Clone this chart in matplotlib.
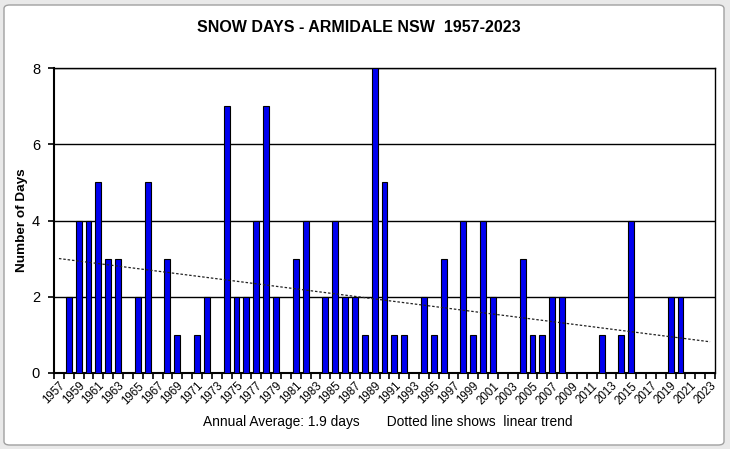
import numpy as np
import matplotlib
matplotlib.use("Agg")
import matplotlib.pyplot as plt
from matplotlib.patches import FancyBboxPatch

plt.rcParams['font.family'] = ['Liberation Sans', 'DejaVu Sans']

years = list(range(1957, 2024))
snow_days = [0, 2, 4, 4, 5, 3, 3, 0, 2, 5,
             0, 3, 1, 0, 1, 2, 0, 7, 2, 2,
             4, 7, 2, 0, 3, 4, 0, 2, 4, 2,
             2, 1, 8, 5, 1, 1, 0, 2, 1, 3,
             0, 4, 1, 4, 2, 0, 0, 3, 1, 1,
             2, 2, 0, 0, 0, 1, 0, 1, 4, 0,
             0, 0, 2, 2, 0, 0, 0]
title = "SNOW DAYS - ARMIDALE NSW  1957-2023"
ylabel = "Number of Days"
footnote = "Annual Average: 1.9 days       Dotted line shows  linear trend"

W, H = 730, 449
fig = plt.figure(figsize=(W / 100, H / 100), dpi=100)
fig.patch.set_facecolor('#e9e9e9')

frame = FancyBboxPatch((4 / W, 4 / H), (724 - 4) / W, (444 - 4) / H,
                       boxstyle="round,pad=0,rounding_size=0.008",
                       transform=fig.transFigure, facecolor='white',
                       edgecolor='#a0a0a0', linewidth=1.0, zorder=-10)
fig.patches.append(frame)

ax = fig.add_axes([54 / W, 1 - 373 / H, (715 - 54) / W, (373 - 68) / H])
ax.set_zorder(1)
ax.set_facecolor('white')
x = np.arange(len(years))
ax.bar(x, snow_days, width=0.6, color='#0000f0', edgecolor='black',
       linewidth=0.8, zorder=3)

coef = np.polyfit(x, snow_days, 1)
ax.plot(x, np.polyval(coef, x), color='#222222', linestyle=(0, (2, 1.5)),
        linewidth=0.9, zorder=4)

ax.set_xlim(-0.5, len(years) - 0.5)
ax.set_ylim(0, 8)
ax.set_yticks([0, 2, 4, 6, 8])
ax.set_yticklabels(['0', '2', '4', '6', '8'], fontsize=10.5)
ax.yaxis.grid(True, color='black', linewidth=1.0, zorder=1)
ax.set_axisbelow(True)

ax.set_xticks(x[::2])
ax.set_xticklabels([str(y) for y in years[::2]], rotation=45, ha='right',
                   va='top', rotation_mode='anchor', fontsize=8.3)
ax.set_xticks(np.arange(-0.5, len(years), 1), minor=True)
ax.tick_params(axis='x', which='major', length=0, pad=5)
ax.tick_params(axis='x', which='minor', length=4, width=1.2, direction='out')
ax.tick_params(axis='y', length=4, width=1.2, direction='out', pad=6)

for s in ax.spines.values():
    s.set_linewidth(1.0)
    s.set_color('black')
ax.spines['bottom'].set_linewidth(1.5)
ax.spines['left'].set_linewidth(1.5)

ax.set_ylabel(ylabel, fontsize=9.7, fontweight='bold')
ax.yaxis.set_label_coords(-(54 - 28) / (715 - 54), 0.5)
fig.text(359 / W, 1 - 27 / H, title, ha='center', va='center',
         fontsize=11.5, fontweight='bold')
fig.text(388 / W, 1 - 422 / H, footnote, ha='center', va='center', fontsize=9.9)

fig.savefig('out.png', dpi=100, facecolor=fig.get_facecolor())
